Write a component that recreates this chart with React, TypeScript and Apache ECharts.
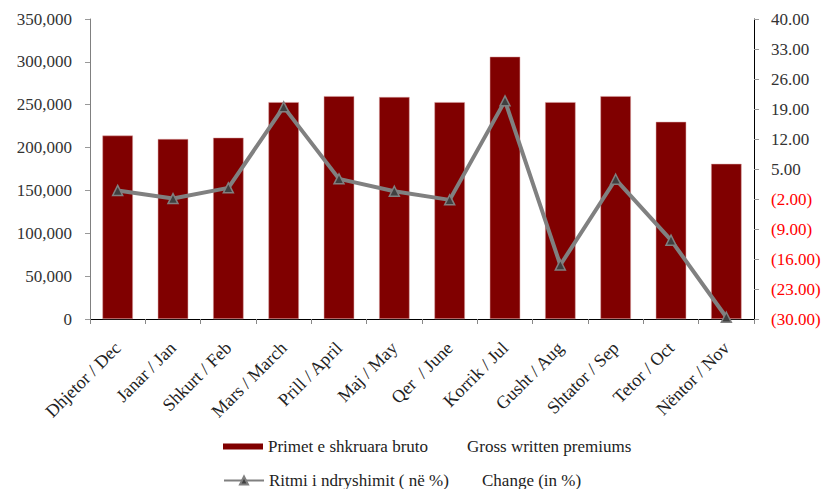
import React, { useEffect, useRef } from "react";
import * as echarts from "echarts";

const categories = [
  "Dhjetor / Dec",
  "Janar / Jan",
  "Shkurt / Feb",
  "Mars / March",
  "Prill / April",
  "Maj / May",
  "Qer  / June",
  "Korrik / Jul",
  "Gusht / Aug",
  "Shtator / Sep",
  "Tetor / Oct",
  "Nëntor / Nov",
];

const premiums = [214000, 210000, 211500, 253000, 260000, 259000, 253000, 306000, 253000, 260000, 230000, 181000];

const changePct = [0.0, -1.9, 0.6, 19.5, 2.7, -0.2, -2.2, 20.9, -17.4, 2.6, -11.6, -29.6];

const leftTicks = [0, 50000, 100000, 150000, 200000, 250000, 300000, 350000];
const rightTicks = [-30, -23, -16, -9, -2, 5, 12, 19, 26, 33, 40];

const barName = "Primet e shkruara bruto";
const barNameEn = "Gross written premiums";
const lineName = "Ritmi i ndryshimit ( në %)";
const lineNameEn = "Change (in %)";

const FONT = '"Liberation Serif", "Times New Roman", serif';

export default function App() {
  const ref = useRef<HTMLDivElement>(null);

  useEffect(() => {
    if (!ref.current) return;
    const chart = echarts.init(ref.current, null, { renderer: "svg" });
    const fmtRight = (v: number) =>
      v >= 0 ? v.toFixed(2) : `(${Math.abs(v).toFixed(2)})`;
    const legendText = (w: number) => ({
      fontFamily: FONT,
      fontSize: 17,
      color: "#222",
      rich: {
        a: { width: w, fontSize: 17, lineHeight: 18, fontFamily: FONT, color: "#222" },
        b: { fontSize: 17, lineHeight: 18, fontFamily: FONT, color: "#222" },
      },
    });
    chart.setOption({
      animation: false,
      textStyle: { fontFamily: FONT },
      grid: { left: 90, right: 70, top: 19, bottom: 170, containLabel: false },
      legend: [
        {
          data: [barName],
          left: 223,
          top: 438,
          padding: 0,
          itemWidth: 40,
          itemHeight: 6,
          itemGap: 5,
          icon: "rect",
          itemStyle: { borderWidth: 0 },
          formatter: (n: string) => `{a|${n}}{b|${barNameEn}}`,
          textStyle: legendText(199),
        },
        {
          data: [lineName],
          left: 223,
          top: 472,
          padding: 0,
          itemWidth: 40,
          itemHeight: 10,
          formatter: (n: string) => `{a|${n}}{b|${lineNameEn}}`,
          textStyle: legendText(213),
        },
      ],
      xAxis: {
        type: "category",
        data: categories,
        boundaryGap: true,
        axisLine: { show: true, lineStyle: { color: "#000", width: 1 } },
        axisTick: { show: true, length: 5, alignWithLabel: false, lineStyle: { color: "#888" } },
        axisLabel: {
          rotate: 45,
          interval: 0,
          margin: 26,
          fontSize: 18,
          fontFamily: FONT,
          color: "#222",
        },
      },
      yAxis: [
        {
          type: "value",
          min: 0,
          max: 350000,
          interval: 50000,
          position: "left",
          axisLine: { show: true, lineStyle: { color: "#808080" } },
          axisTick: { show: true, length: 5, lineStyle: { color: "#999" }, customValues: leftTicks },
          splitLine: { show: false },
          axisLabel: {
            margin: 18,
            fontSize: 17,
            fontFamily: FONT,
            color: "#333",
            customValues: leftTicks,
            formatter: (v: number) => v.toLocaleString("en-US"),
          },
        },
        {
          type: "value",
          min: -30,
          max: 40,
          position: "right",
          axisLine: { show: true, lineStyle: { color: "#000" } },
          axisTick: { show: true, length: 5, lineStyle: { color: "#999" }, customValues: rightTicks },
          splitLine: { show: false },
          axisLabel: {
            margin: 17,
            fontSize: 17,
            fontFamily: FONT,
            customValues: rightTicks,
            color: (v: any) => (Number(v) < 0 ? "#ff0000" : "#333"),
            formatter: (v: number) => fmtRight(v),
          },
        },
      ],
      series: [
        {
          name: barName,
          type: "bar",
          data: premiums,
          yAxisIndex: 0,
          barWidth: "55%",
          itemStyle: { color: "#800000", borderColor: "#d9a0a0", borderWidth: 0.5 },
        },
        {
          name: lineName,
          type: "line",
          data: changePct,
          yAxisIndex: 1,
          symbol: "triangle",
          symbolSize: 10,
          clip: false,
          lineStyle: { color: "#808080", width: 4 },
          itemStyle: { color: "#404040", borderColor: "#808080", borderWidth: 1.5 },
        },
      ],
    });
    return () => chart.dispose();
  }, []);

  return (
    <div
      ref={ref}
      style={{ position: "fixed", left: 0, top: 0, width: 824, height: 489, background: "#fff" }}
    />
  );
}
